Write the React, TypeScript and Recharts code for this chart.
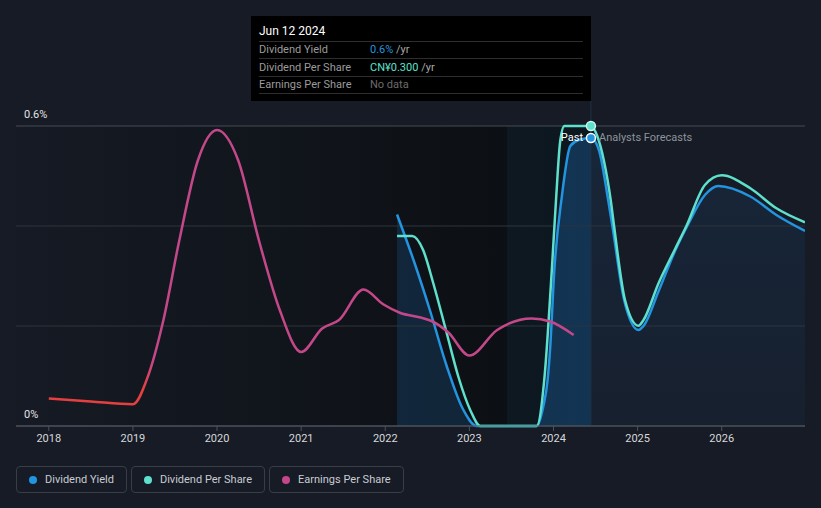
import React from 'react';
import {
  ComposedChart, Line, Area, XAxis, YAxis, ReferenceArea, ReferenceLine, ReferenceDot,
} from 'recharts';

// ---- data (year, value) ----
const dividendYieldPast: [number, number][] = [
  [2022.14, 0.423], [2022.35, 0.325], [2022.53, 0.232], [2022.73, 0.12], [2022.92, 0.035],
  [2023.09, 0], [2023.8, 0], [2023.88, 0.04], [2023.93, 0.092], [2023.96, 0.155],
  [2024.01, 0.312], [2024.1, 0.46], [2024.2, 0.56], [2024.3, 0.572], [2024.445, 0.576],
];
const dividendYieldForecast: [number, number][] = [
  [2024.445, 0.576], [2024.54, 0.552], [2024.65, 0.452], [2024.7, 0.4], [2024.84, 0.252],
  [2025.01, 0.192], [2025.07, 0.2], [2025.25, 0.27], [2025.45, 0.352], [2025.59, 0.4],
  [2025.8, 0.462], [2025.96, 0.48], [2026.34, 0.459], [2026.65, 0.422], [2026.99, 0.39],
];
const dividendPerSharePast: [number, number][] = [
  [2022.14, 0.19], [2022.32, 0.19], [2022.45, 0.176], [2022.57, 0.143], [2022.73, 0.093],
  [2022.87, 0.049], [2023.01, 0.016], [2023.13, 0], [2023.8, 0], [2023.89, 0.046],
  [2023.98, 0.156], [2024.03, 0.226], [2024.08, 0.285], [2024.13, 0.3], [2024.445, 0.3],
];
const dividendPerShareForecast: [number, number][] = [
  [2024.445, 0.3], [2024.52, 0.29], [2024.6, 0.265], [2024.68, 0.226], [2024.72, 0.2],
  [2024.85, 0.126], [2025.01, 0.1003], [2025.07, 0.106], [2025.25, 0.143], [2025.44, 0.176],
  [2025.58, 0.2], [2025.8, 0.241], [2026.0, 0.2507], [2026.34, 0.2377], [2026.65, 0.2177],
  [2026.99, 0.2037],
];
const earningsPerShare: [number, number][] = [
  [2018.0, 0.055], [2018.5, 0.049], [2019.0, 0.0435], [2019.18, 0.1], [2019.36, 0.21],
  [2019.55, 0.37], [2019.77, 0.53], [2020.0, 0.592], [2020.25, 0.532], [2020.5, 0.37],
  [2020.75, 0.23], [2021.0, 0.148], [2021.25, 0.195], [2021.45, 0.212], [2021.74, 0.273],
  [2021.98, 0.243], [2022.18, 0.226], [2022.42, 0.217], [2022.55, 0.21], [2022.75, 0.187],
  [2023.0, 0.141], [2023.33, 0.192], [2023.74, 0.215], [2023.96, 0.209], [2024.24, 0.182],
];
const xTicks = [2018, 2019, 2020, 2021, 2022, 2023, 2024, 2025, 2026];
const xDomain = [2017.61, 2026.99];
const yGrid = [0.2, 0.4];
const yTop = 0.6;
const yTopLabel = '0.6%';
const yBottomLabel = '0%';
const nowYear = 2024.445;
const lastYearStart = 2023.445;
const tooltipTitle = 'Jun 12 2024';
const tooltipRows = [
  { label: 'Dividend Yield', value: '0.6%', unit: ' /yr', key: 'dy' },
  { label: 'Dividend Per Share', value: 'CN¥0.300', unit: ' /yr', key: 'dps' },
  { label: 'Earnings Per Share', value: 'No data', unit: '', key: 'eps' },
];
const legendLabels = ['Dividend Yield', 'Dividend Per Share', 'Earnings Per Share'];

// ---- styles ----
const BG = '#161b26';
const BLUE = '#2394df';
const TEAL = '#5ee0cc';
const PINK = '#c4478a';
const RED = '#e5403f';
const FONT = 'Roboto, "Noto Sans", sans-serif';
const seriesColors: Record<string, string> = { dy: BLUE, dps: TEAL, eps: '#6b6b6b' };
const legendColors = [BLUE, TEAL, PINK];

const rows = (pts: [number, number][]) => pts.map(([year, value]) => ({ year, value }));
const dyAll = rows([...dividendYieldPast, ...dividendYieldForecast.slice(1)]);
const dpsAll = rows([...dividendPerSharePast, ...dividendPerShareForecast.slice(1)]);
const pastStart = dividendYieldPast[0][0];
const bandOffset = (lastYearStart - pastStart) / (nowYear - pastStart);

const axisLabel = (text: string) => (props: any) => {
  const vb = props.viewBox || {};
  return (
    <text x={(vb.x ?? 16) + 8} y={(vb.y ?? 0) - 12} dy="0.35em" fill="#e4e4e4" fontSize={11} fontFamily={FONT}>{text}</text>
  );
};

export default function App() {
  return (
    <div style={{ position: 'absolute', left: 0, top: 0, width: 821, height: 508, background: BG, fontFamily: FONT, overflow: 'hidden' }}>
      <ComposedChart width={821} height={508} margin={{ top: 126, right: 16, bottom: 52, left: 16 }}>
        <defs>
          <linearGradient id="pastGrad" x1="0" y1="0" x2="1" y2="0">
            <stop offset="0" stopColor="#151a24" />
            <stop offset="0.55" stopColor="#10141a" />
            <stop offset="1" stopColor="#0a0d11" />
          </linearGradient>
          <linearGradient id="pastFill" x1="0" y1="0" x2="1" y2="0">
            <stop offset="0" stopColor="#2178c8" stopOpacity={0.2} />
            <stop offset={bandOffset} stopColor="#2178c8" stopOpacity={0.2} />
            <stop offset={bandOffset} stopColor="#2178c8" stopOpacity={0.28} />
            <stop offset="1" stopColor="#2178c8" stopOpacity={0.3} />
          </linearGradient>
          <linearGradient id="fcFill" x1="0" y1="0" x2="0" y2="1">
            <stop offset="0" stopColor="#2178c8" stopOpacity={0.12} />
            <stop offset="1" stopColor="#2178c8" stopOpacity={0.05} />
          </linearGradient>
          <linearGradient id="epsStroke" x1="0" y1="0" x2="1" y2="0">
            <stop offset="0" stopColor={RED} />
            <stop offset="0.18" stopColor={RED} />
            <stop offset="0.2" stopColor={PINK} />
            <stop offset="1" stopColor={PINK} />
          </linearGradient>
        </defs>
        <XAxis
          dataKey="year" type="number" domain={xDomain} ticks={xTicks} allowDataOverflow
          height={30} tickSize={5} tickMargin={3}
          stroke="#4d525a" tick={{ fill: '#d8d8d8', fontSize: 11, fontFamily: FONT }}
          tickFormatter={(v: number) => String(v)}
        />
        <YAxis yAxisId="pct" type="number" domain={[0, yTop]} width={0} axisLine={false} tickLine={false} tick={false} />
        <YAxis yAxisId="dps" type="number" domain={[0, 0.3]} hide />
        <ReferenceArea yAxisId="pct" x1={xDomain[0]} x2={nowYear} y1={0} y2={yTop} fill="url(#pastGrad)" fillOpacity={1} stroke="none" />
        <ReferenceArea yAxisId="pct" x1={lastYearStart} x2={nowYear} y1={0} y2={yTop} fill="#2a6a9a" fillOpacity={0.1} stroke="none" />
        <Area yAxisId="pct" data={rows(dividendYieldPast)} dataKey="value" type="monotone" stroke="none"
          fill="url(#pastFill)" fillOpacity={1} isAnimationActive={false} />
        <Area yAxisId="pct" data={rows(dividendYieldForecast)} dataKey="value" type="monotone" stroke="none"
          fill="url(#fcFill)" fillOpacity={1} isAnimationActive={false} />
        {yGrid.map((g) => (
          <ReferenceLine key={g} yAxisId="pct" y={g} stroke="#2f343d" />
        ))}
        <ReferenceLine yAxisId="pct" y={yTop} stroke="#464a52" label={axisLabel(yTopLabel)} />
        <ReferenceLine yAxisId="pct" y={0} stroke="#4d525a" label={axisLabel(yBottomLabel)} />
        <ReferenceLine yAxisId="pct" ifOverflow="visible" stroke="#1f3345"
          segment={[{ x: nowYear, y: 0 }, { x: nowYear, y: 0.65 }]} />
        <Line yAxisId="pct" data={dyAll} dataKey="value" type="monotone" stroke={BLUE} strokeWidth={2.5}
          dot={false} isAnimationActive={false} />
        <Line yAxisId="dps" data={dpsAll} dataKey="value" type="monotone" stroke={TEAL} strokeWidth={2.5}
          dot={false} isAnimationActive={false} />
        <Line yAxisId="pct" data={rows(earningsPerShare)} dataKey="value" type="monotone" stroke="url(#epsStroke)"
          strokeWidth={2.5} dot={false} isAnimationActive={false} />
        <ReferenceDot yAxisId="dps" x={nowYear} y={0.3} r={4.5} fill={TEAL} stroke="#c8f7ee" strokeWidth={1.5} ifOverflow="visible" />
        <ReferenceDot yAxisId="pct" x={nowYear} y={0.576} r={4.5} fill={BLUE} stroke="#ffffff" strokeWidth={1.5} ifOverflow="visible" />
      </ComposedChart>

      {/* Past / Forecast labels */}
      <div style={{ position: 'absolute', right: 821 - 583, top: 131, fontSize: 11, color: '#ffffff', lineHeight: '14px' }}>Past</div>
      <div style={{ position: 'absolute', left: 599, top: 131, fontSize: 11, color: '#8e939b', lineHeight: '14px' }}>Analysts Forecasts</div>

      {/* tooltip */}
      <div style={{ position: 'absolute', left: 251, top: 16, width: 340, height: 85, background: '#000' }}>
        <div style={{ position: 'absolute', left: 8, top: 8, fontSize: 12, color: '#fff', lineHeight: '14px' }}>{tooltipTitle}</div>
        <div style={{ position: 'absolute', left: 8, top: 25, width: 324, height: 1, background: '#2e2e2e' }} />
        {tooltipRows.map((r, i) => (
          <React.Fragment key={r.key}>
            <div style={{ position: 'absolute', left: 8, top: 25 + i * 17.5, height: 17, lineHeight: '17px', fontSize: 11, color: '#9b9b9b' }}>{r.label}</div>
            <div style={{ position: 'absolute', left: 119, top: 25 + i * 17.5, height: 17, lineHeight: '17px', fontSize: 11, color: seriesColors[r.key] }}>
              {r.value}<span style={{ color: '#a8a8a8' }}>{r.unit}</span>
            </div>
            <div style={{ position: 'absolute', left: 8, top: 42 + i * 17.5, width: 324, height: 1, background: '#2e2e2e' }} />
          </React.Fragment>
        ))}
      </div>

      {/* legend */}
      <div style={{ position: 'absolute', left: 16, top: 466, display: 'flex', gap: 4 }}>
        {legendLabels.map((l, i) => (
          <div key={l} style={{ height: 25, border: '1px solid #383d46', borderRadius: 4, display: 'flex', alignItems: 'center', padding: '0 12px 0 12px', fontSize: 11, color: '#c9ccd1', whiteSpace: 'nowrap' }}>
            <span style={{ width: 8, height: 8, borderRadius: 4, background: legendColors[i], display: 'inline-block', marginRight: 8 }} />
            {l}
          </div>
        ))}
      </div>
    </div>
  );
}
